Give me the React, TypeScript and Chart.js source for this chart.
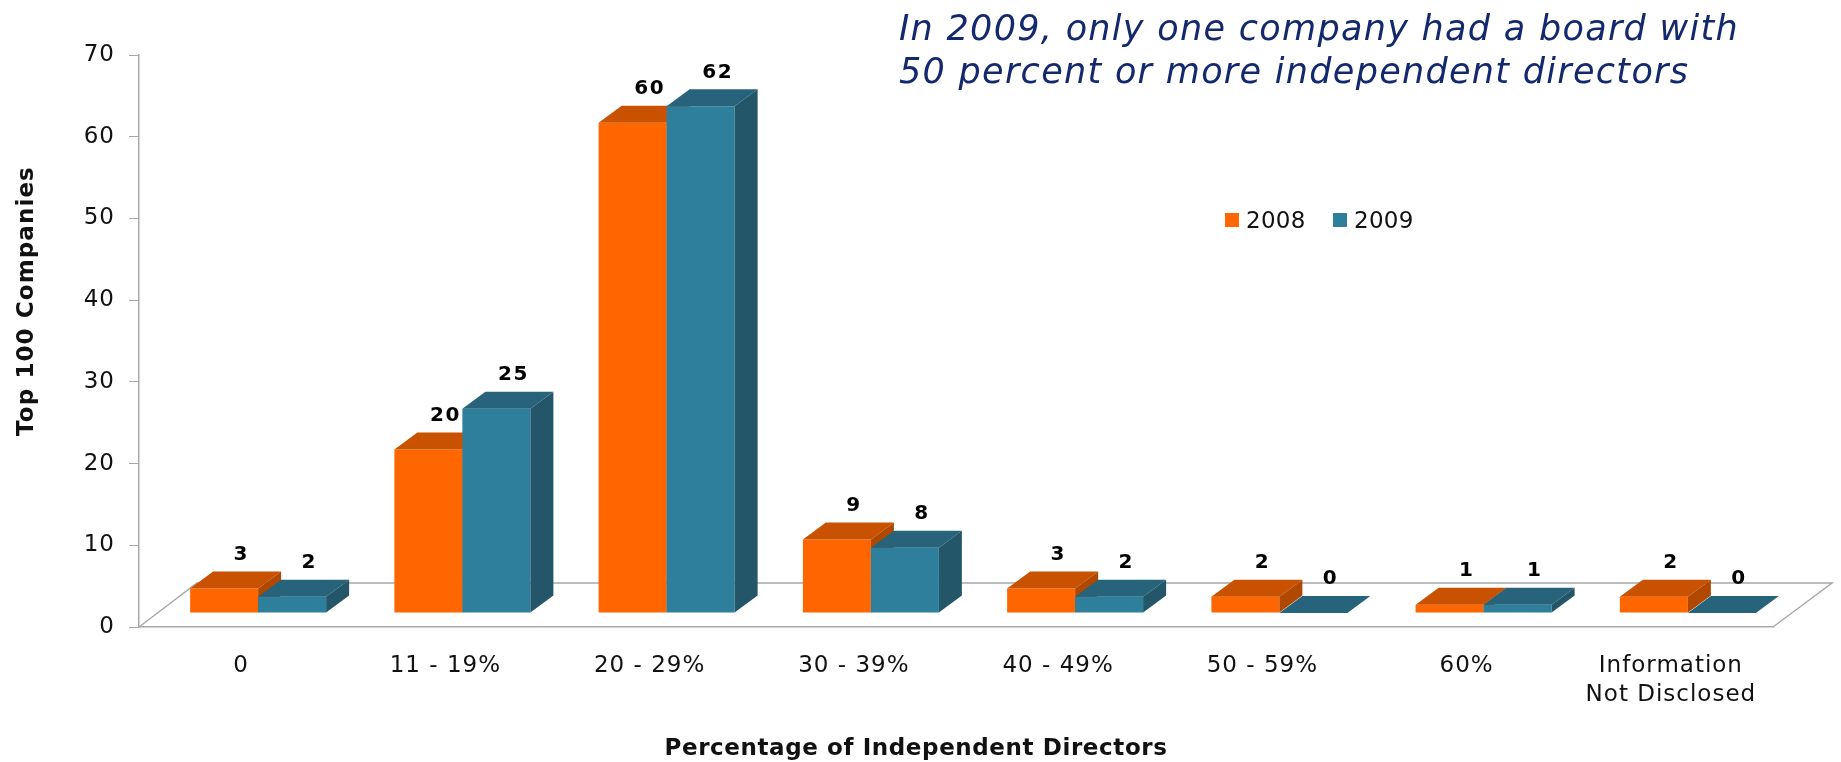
import React, { useEffect, useRef } from "react";
import { Chart, registerables } from "chart.js";

Chart.register(...registerables);

const categories = ["0", "11 - 19%", "20 - 29%", "30 - 39%", "40 - 49%", "50 - 59%", "60%", ["Information", "Not Disclosed"]];
const series2008 = [3, 20, 60, 9, 3, 2, 1, 2];
const series2009 = [2, 25, 62, 8, 2, 0, 1, 0];
const legendLabels = ["2008", "2009"];
const headline = ["In 2009, only one company had a board with", "50 percent or more independent directors"];
const yTitle = "Top 100 Companies";
const xTitle = "Percentage of Independent Directors";

const FONT = "'DejaVu Sans', sans-serif";
const SHIFT_X = 17;
const SHIFT_Y = -14;
const DEPTH_X = 23;
const DEPTH_Y = -17;
const palette = [
  { front: "#ff6600", top: "#c85200", side: "#b04800" },
  { front: "#2e7f9c", top: "#27637b", side: "#235669" },
];

const bar3d = {
  id: "bar3d",
  beforeDraw(chart: any) {
    chart.ctx.letterSpacing = "1px";
  },
  beforeDatasetsDraw(chart: any) {
    const { ctx, chartArea: a } = chart;
    ctx.save();
    ctx.strokeStyle = "#a8a8a8";
    ctx.lineWidth = 1.5;
    ctx.beginPath();
    ctx.moveTo(a.left, a.bottom);
    ctx.lineTo(a.left + 58, a.bottom - 44);
    ctx.lineTo(a.right + 59, a.bottom - 44);
    ctx.lineTo(a.right, a.bottom);
    ctx.stroke();
    ctx.restore();

    // Painter's order: 2008 first, so that the 2009 faces lie over it.
    chart.data.datasets.forEach((_: any, i: number) => {
      const meta = chart.getDatasetMeta(i);
      const c = palette[i];
      ctx.save();
      ctx.translate(SHIFT_X, SHIFT_Y);
      meta.controller.draw();
      meta.data.forEach((bar: any) => {
        const l = bar.x - bar.width / 2;
        const r = bar.x + bar.width / 2;
        const t = bar.y;
        const b = bar.base;
        ctx.fillStyle = c.top;
        ctx.beginPath();
        ctx.moveTo(l, t);
        ctx.lineTo(l + DEPTH_X, t + DEPTH_Y);
        ctx.lineTo(r + DEPTH_X, t + DEPTH_Y);
        ctx.lineTo(r, t);
        ctx.closePath();
        ctx.fill();
        ctx.fillStyle = c.side;
        ctx.beginPath();
        ctx.moveTo(r, t);
        ctx.lineTo(r + DEPTH_X, t + DEPTH_Y);
        ctx.lineTo(r + DEPTH_X, b + DEPTH_Y);
        ctx.lineTo(r, b);
        ctx.closePath();
        ctx.fill();
      });
      ctx.restore();
    });

    ctx.save();
    ctx.letterSpacing = "1.5px";
    ctx.font = `bold 20px ${FONT}`;
    ctx.fillStyle = "#000";
    ctx.textAlign = "center";
    ctx.textBaseline = "middle";
    chart.data.datasets.forEach((ds: any, i: number) => {
      chart.getDatasetMeta(i).data.forEach((bar: any, j: number) => {
        ctx.fillText(String(ds.data[j]), bar.x + SHIFT_X + 17, bar.y + SHIFT_Y + DEPTH_Y - 17);
      });
    });
    ctx.restore();
    return false;
  },
  afterDraw(chart: any) {
    const { ctx } = chart;
    ctx.save();
    ctx.textBaseline = "middle";
    ctx.textAlign = "left";
    ctx.font = `23px ${FONT}`;
    ctx.letterSpacing = "0.3px";
    const xs = [1225, 1333];
    legendLabels.forEach((t, i) => {
      ctx.fillStyle = palette[i].front;
      ctx.fillRect(xs[i], 213, 14, 14);
      ctx.fillStyle = "#111";
      ctx.fillText(t, xs[i] + 21, 222);
    });
    ctx.font = `italic 35px ${FONT}`;
    ctx.letterSpacing = "1.3px";
    ctx.fillStyle = "#14286e";
    headline.forEach((t, i) => ctx.fillText(t, 899, 31 + i * 43));

    ctx.fillStyle = "#111";
    ctx.textAlign = "center";
    ctx.font = `bold 23px ${FONT}`;
    ctx.letterSpacing = "0.6px";
    ctx.fillText(xTitle, 916, 749);
    ctx.translate(27, 301);
    ctx.rotate(-Math.PI / 2);
    ctx.letterSpacing = "1.1px";
    ctx.fillText(yTitle, 0, 0);
    ctx.restore();
  },
};

export default function App() {
  const ref = useRef<HTMLCanvasElement>(null);
  useEffect(() => {
    const chart = new Chart(ref.current!, {
      type: "bar",
      data: {
        labels: categories as any,
        datasets: [
          { label: legendLabels[0], data: series2008, backgroundColor: palette[0].front },
          { label: legendLabels[1], data: series2009, backgroundColor: palette[1].front },
        ],
      },
      options: {
        animation: false,
        responsive: false,
        clip: false,
        layout: { padding: { top: 55, right: 68, left: 0, bottom: 0 } },
        datasets: { bar: { categoryPercentage: 136 / 204.25, barPercentage: 1 } },
        plugins: { legend: { display: false }, tooltip: { enabled: false }, title: { display: false } },
        scales: {
          x: {
            afterFit: (s: any) => { s.height = 135; },
            grid: { display: false, drawTicks: false },
            border: { display: true, color: "#a8a8a8", width: 1.5 },
            ticks: { color: "#111", font: { family: FONT, size: 23, lineHeight: 1.25 }, padding: 25, maxRotation: 0, autoSkip: false },
          },
          y: {
            min: 0,
            max: 70,
            afterFit: (s: any) => { s.width = 139; },
            grid: { display: true, drawOnChartArea: false, drawTicks: true, tickLength: 10, color: "#a8a8a8" },
            border: { display: true, color: "#a8a8a8", width: 1.5 },
            ticks: { stepSize: 10, color: "#111", font: { family: FONT, size: 23 }, padding: 14 },
          },
        },
      },
      plugins: [bar3d],
    } as any);
    return () => chart.destroy();
  }, []);
  return (
    <canvas
      ref={ref}
      width={1841}
      height={762}
      style={{ position: "absolute", left: 0, top: 0, display: "block", background: "#fff" }}
    />
  );
}
